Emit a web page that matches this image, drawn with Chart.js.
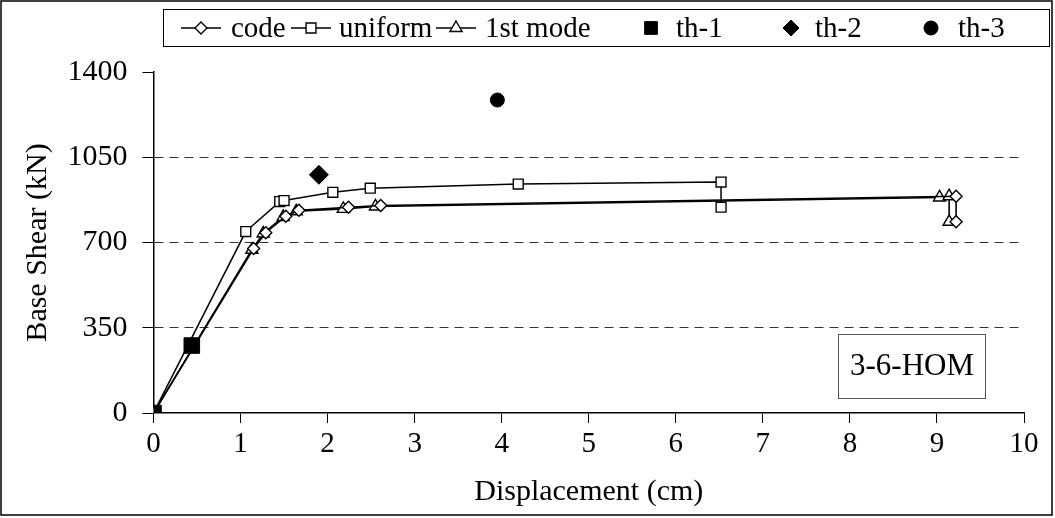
<!DOCTYPE html>
<html>
<head>
<meta charset="utf-8">
<script src="https://cdn.jsdelivr.net/npm/chart.js@4/dist/chart.umd.min.js"></script>
<style>
  html, body { margin: 0; padding: 0; background: #fff; }
  #wrap { width: 1055px; height: 518px; position: relative; }
</style>
</head>
<body>
<div id="wrap"><canvas id="c" width="1055" height="518"></canvas></div>
<script>
// ---- data ----
const xTicks = [0, 1, 2, 3, 4, 5, 6, 7, 8, 9, 10];
const yTicks = [0, 350, 700, 1050, 1400];

const codeX = [0, 1.15, 1.29, 1.52, 1.67, 2.24, 2.61, 9.22, 9.22];
const codeY = [0, 675, 740, 808, 832, 845, 852, 890, 785];

const uniformX = [0, 1.06, 1.45, 1.50, 2.06, 2.49, 4.19, 6.52, 6.52];
const uniformY = [0, 745, 868, 872, 906, 923, 940, 948, 845];

const modeX = [0, 1.13, 1.26, 1.49, 1.64, 2.18, 2.55, 9.03, 9.14, 9.14];
const modeY = [0, 670, 737, 805, 828, 838, 848, 885, 890, 785];

const th1X = [0, 0.44];
const th1Y = [0, 277];
const th2X = [1.90];
const th2Y = [978];
const th3X = [3.95];
const th3Y = [1285];

const seriesNames = ['code', 'uniform', '1st mode', 'th-1', 'th-2', 'th-3'];
const boxLabel = '3-6-HOM';
const xTitle = 'Displacement (cm)';
const yTitle = 'Base Shear (kN)';

const pts = (xs, ys) => xs.map((x, i) => ({x: x, y: ys[i]}));

const FONT = '"Liberation Serif", "Times New Roman", serif';
Chart.defaults.font.family = FONT;
Chart.defaults.color = '#000';

const datasets = [
  {label: seriesNames[0], data: pts(codeX, codeY), showLine: true, borderColor: '#000', borderWidth: 1.6,
   pointStyle: 'rectRot', pointRadius: 6, pointBackgroundColor: '#fff', pointBorderColor: '#000', pointBorderWidth: 1.4, order: 2},
  {label: seriesNames[1], data: pts(uniformX, uniformY), showLine: true, borderColor: '#000', borderWidth: 1.5,
   pointStyle: 'rect', pointRadius: 7, pointBackgroundColor: '#fff', pointBorderColor: '#000', pointBorderWidth: 1.4, order: 2},
  {label: seriesNames[2], data: pts(modeX, modeY), showLine: true, borderColor: '#000', borderWidth: 1.6,
   pointStyle: 'triangle', pointRadius: 7, pointBackgroundColor: '#fff', pointBorderColor: '#000', pointBorderWidth: 1.4, order: 2},
  {label: seriesNames[3], data: pts(th1X, th1Y), showLine: false,
   pointStyle: 'rect', pointRadius: 11, pointBackgroundColor: '#000', pointBorderColor: '#000', pointBorderWidth: 1, order: 0},
  {label: seriesNames[4], data: pts(th2X, th2Y), showLine: false,
   pointStyle: 'rectRot', pointRadius: 9.5, pointBackgroundColor: '#000', pointBorderColor: '#000', pointBorderWidth: 1, order: 0},
  {label: seriesNames[5], data: pts(th3X, th3Y), showLine: false,
   pointStyle: 'circle', pointRadius: 7, pointBackgroundColor: '#000', pointBorderColor: '#000', pointBorderWidth: 1, order: 0}
];

// custom legend positions (layout only)
const legendLayout = [
  {sym: 201, line: true, text: 231},
  {sym: 311, line: true, text: 339},
  {sym: 456, line: true, text: 485},
  {sym: 651, line: false, text: 676},
  {sym: 791, line: false, text: 815},
  {sym: 931, line: false, text: 958}
];

const decor = {
  id: 'decor',
  afterDraw(chart) {
    const ctx = chart.ctx;
    ctx.save();
    // outer frame
    ctx.strokeStyle = '#000';
    ctx.lineWidth = 1.5;
    ctx.strokeRect(1, 1, 1051, 514);
    // legend frame
    ctx.lineWidth = 1;
    ctx.strokeRect(163.5, 9.5, 886, 37);
    const ly = 28;
    ctx.font = '29px ' + FONT;
    ctx.textBaseline = 'middle';
    ctx.textAlign = 'left';
    datasets.forEach((ds, i) => {
      const L = legendLayout[i];
      if (L.line) {
        ctx.beginPath();
        ctx.strokeStyle = '#000';
        ctx.lineWidth = 1.6;
        ctx.moveTo(L.sym - 20, ly);
        ctx.lineTo(L.sym + 20, ly);
        ctx.stroke();
      }
      ctx.fillStyle = ds.pointBackgroundColor;
      ctx.strokeStyle = ds.pointBorderColor;
      ctx.lineWidth = ds.pointBorderWidth;
      const r = ds.pointStyle === 'rect' && !L.line ? 9 : (ds.pointStyle === 'rectRot' && !L.line ? 8 : ds.pointRadius);
      Chart.helpers.drawPoint(ctx, {pointStyle: ds.pointStyle, radius: r, rotation: 0, borderWidth: ds.pointBorderWidth}, L.sym, ly);
      ctx.fillStyle = '#000';
      ctx.fillText(ds.label, L.text, ly + 1);
    });
    // label box
    ctx.strokeStyle = '#555';
    ctx.lineWidth = 1;
    ctx.fillStyle = '#fff';
    ctx.fillRect(838.5, 334.5, 147, 64);
    ctx.strokeRect(838.5, 334.5, 147, 64);
    ctx.fillStyle = '#000';
    ctx.font = '31px ' + FONT;
    ctx.textAlign = 'center';
    ctx.fillText(boxLabel, 912, 367);
    ctx.restore();
  }
};

new Chart(document.getElementById('c'), {
  type: 'scatter',
  data: {datasets: datasets},
  plugins: [decor],
  options: {
    responsive: false,
    animation: false,
    layout: {padding: {left: 0, right: 31, top: 72, bottom: 0}},
    plugins: {legend: {display: false}, tooltip: {enabled: false}},
    elements: {line: {tension: 0}},
    scales: {
      x: {
        type: 'linear', min: 0, max: 10,
        afterBuildTicks: s => { s.ticks = xTicks.map(v => ({value: v})); },
        afterFit: s => { s.height = 105; },
        ticks: {font: {size: 29}, color: '#000', padding: 4, maxRotation: 0, callback: v => String(v)},
        grid: {drawOnChartArea: false, tickLength: 10, tickColor: '#000', tickWidth: 1},
        border: {color: '#000', width: 1.5},
        title: {display: true, text: xTitle, font: {size: 30}, color: '#000', padding: {top: 0, bottom: 8}}
      },
      y: {
        type: 'linear', min: 0, max: 1400,
        afterBuildTicks: s => { s.ticks = yTicks.map(v => ({value: v})); },
        afterFit: s => { s.width = 153.5; },
        ticks: {font: {size: 30}, color: '#000', padding: 15, callback: v => String(v)},
        grid: {
          color: c => (c.tick && c.tick.value > 0 && c.tick.value < 1400) ? '#333' : 'rgba(0,0,0,0)',
          lineWidth: 1, tickLength: 11, tickColor: '#000', tickWidth: 1, tickBorderDash: []
        },
        border: {color: '#000', width: 1.5, dash: [9, 6]},
        title: {display: true, text: yTitle, font: {size: 30}, color: '#000', padding: {top: 20, bottom: 0}}
      }
    }
  }
});
</script>
</body>
</html>
